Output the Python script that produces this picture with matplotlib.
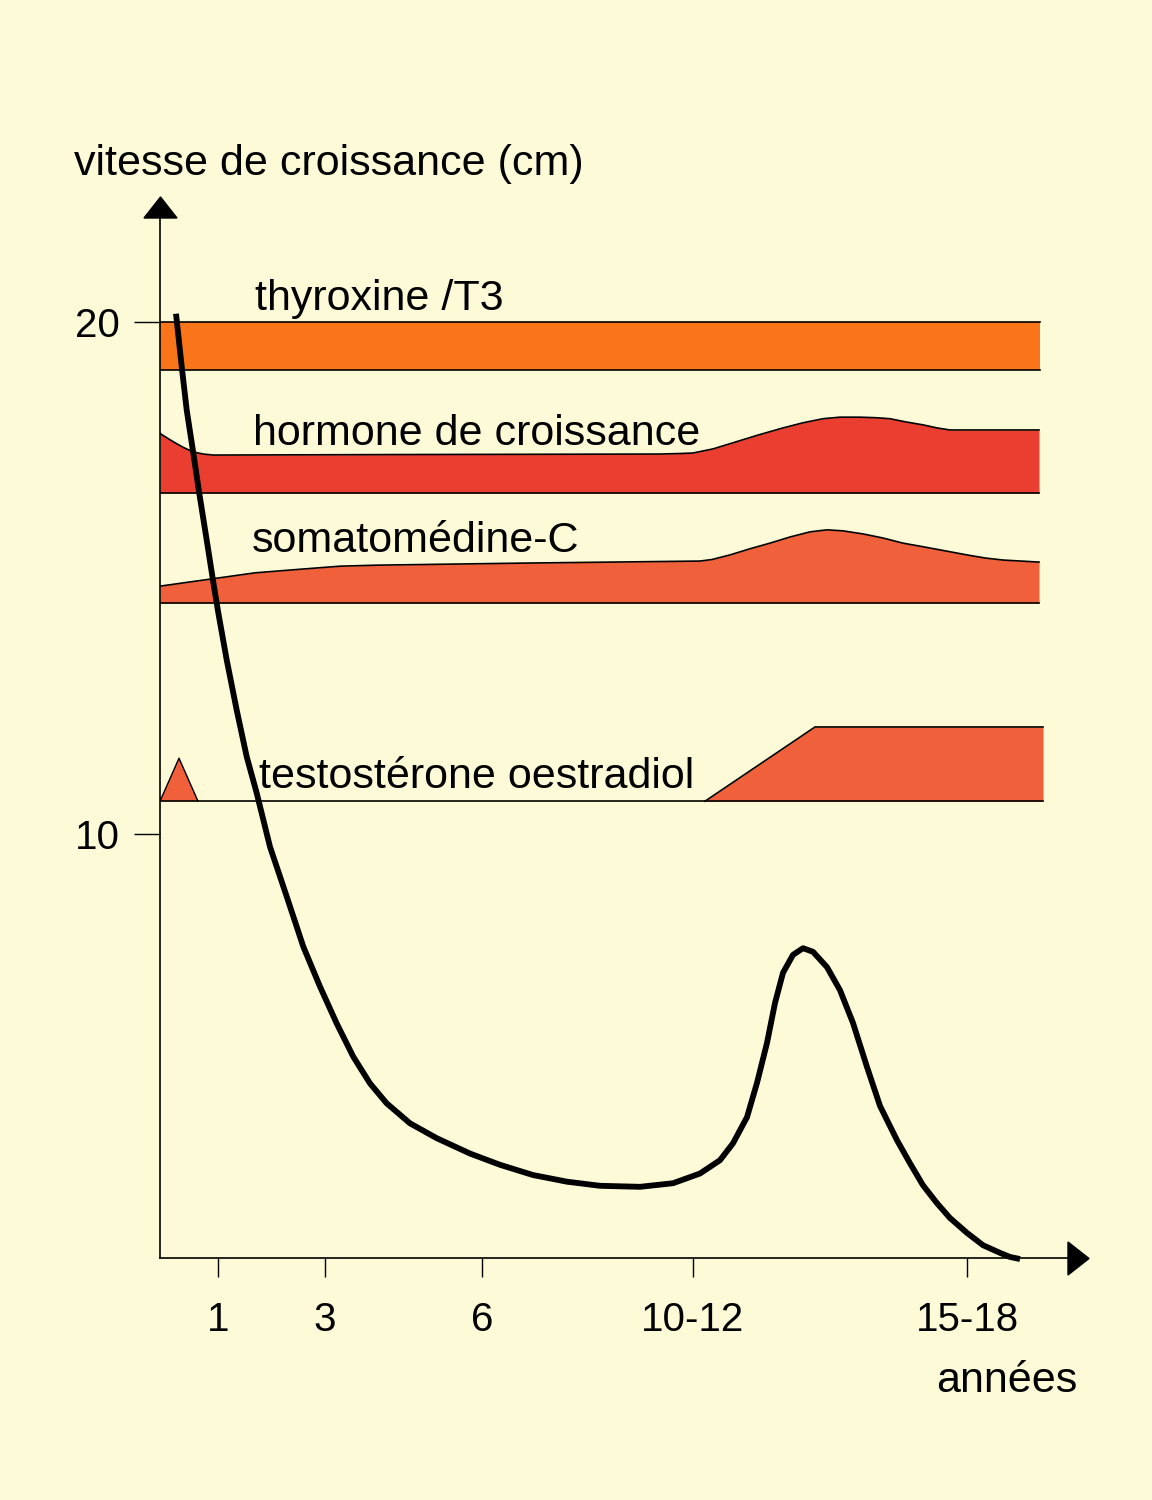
import matplotlib
matplotlib.use("Agg")
import matplotlib.pyplot as plt
from matplotlib.patches import Polygon

plt.rcParams['font.family'] = ['Liberation Sans', 'DejaVu Sans']

# x : position along the age axis (arbitrary units, 0 = origin)
# y : vitesse de croissance (cm)
age_ticks = [5.8, 16.5, 32.2, 53.3, 80.7]
age_labels = ["1", "3", "6", "10-12", "15-18"]

curve_x = [1.60, 2.17, 2.67, 3.33, 3.93, 4.67, 5.40, 5.83, 6.67, 7.67, 8.67, 9.67,
           11.0, 12.67, 14.33, 16.0, 17.67, 19.33, 21.0, 22.67, 25.0, 27.67, 31.0,
           34.0, 37.3, 40.7, 44.0, 48.0, 51.3, 54.0, 56.0, 57.3, 58.7, 59.7, 60.7,
           61.5, 62.3, 63.3, 64.3, 65.3, 66.7, 68.0, 69.3, 70.7, 72.0, 73.7, 75.0,
           76.3, 77.7, 79.0, 80.7, 82.3, 84.0, 85.0, 86.0]
curve_y = [20.16, 19.13, 18.28, 17.44, 16.65, 15.74, 14.83, 14.32, 13.40, 12.42,
           11.51, 10.80, 9.75, 8.78, 7.80, 7.02, 6.30, 5.65, 5.13, 4.74, 4.35, 4.06,
           3.76, 3.54, 3.34, 3.21, 3.13, 3.11, 3.18, 3.37, 3.63, 3.96, 4.47, 5.14,
           5.92, 6.70, 7.29, 7.64, 7.77, 7.70, 7.40, 6.95, 6.31, 5.45, 4.69, 4.02,
           3.57, 3.14, 2.79, 2.50, 2.21, 1.97, 1.82, 1.74, 1.70]

# thyroxine / T3
thyro_x = [0, 88.0]
thyro_top = [20.0, 20.0]
thyro_bottom = 19.06

# hormone de croissance
gh_x = [0, 0.17, 1.33, 2.33, 3.33, 4.33, 5.33, 24.0, 50.0, 52.0, 53.3, 55.3, 57.3,
        59.8, 62.3, 64.3, 66.3, 68.0, 70.0, 71.5, 73.0, 74.5, 76.3, 77.7, 79.0, 87.9]
gh_top = [17.83, 17.80, 17.66, 17.55, 17.46, 17.42, 17.40, 17.41, 17.42, 17.43,
          17.44, 17.52, 17.64, 17.79, 17.93, 18.03, 18.11, 18.14, 18.14, 18.13,
          18.11, 18.05, 17.99, 17.93, 17.89, 17.89]
gh_bottom = 16.66

# somatomédine-C
som_x = [0, 9.5, 14.0, 18.0, 21.7, 36.3, 54.0, 55.2, 57.0, 59.0, 61.0, 63.0, 65.0,
         66.7, 68.3, 70.3, 72.3, 74.3, 76.3, 78.5, 80.7, 82.5, 84.3, 87.9]
som_top = [14.84, 15.10, 15.17, 15.23, 15.25, 15.29, 15.33, 15.36, 15.45, 15.57,
           15.68, 15.80, 15.90, 15.94, 15.92, 15.86, 15.78, 15.68, 15.61, 15.53,
           15.45, 15.39, 15.35, 15.31]
som_bottom = 14.51

# testostérone / oestradiol
testo_base = 10.64
testo_peak_x = [0, 1.9, 3.8]
testo_peak_y = [10.64, 11.48, 10.64]
testo_x = [54.5, 65.5, 88.3]
testo_y = [10.64, 12.09, 12.09]
testo_end = 88.3

bg = "#FDFBD7"
c_thyro = "#FA751A"
c_gh = "#E93E30"
c_som = "#F0603A"

W, H = 1152, 1500
fig = plt.figure(figsize=(W / 100, H / 100), dpi=100, facecolor=bg)

def px(x, y):
    return (x / W, 1 - y / H)

# axes box: origin at (160, 1258), arrow tips at x=1089 and y=198
ax = fig.add_axes([160 / W, 1 - 1258 / H, (1089 - 160) / W, (1258 - 198) / H])
ax.set_facecolor(bg)
ax.set_xlim(0, 92.9)
ax.set_ylim(1.72, 22.42)

for s in ["top", "right"]:
    ax.spines[s].set_visible(False)
for s in ["left", "bottom"]:
    ax.spines[s].set_linewidth(1.2)
ax.spines["left"].set_bounds(1.72, 22.03)
ax.spines["bottom"].set_bounds(0, 90.8)

lw_edge = 1.2
# bands
ax.fill_between(thyro_x, thyro_bottom, thyro_top, color=c_thyro, lw=0)
ax.plot(thyro_x, thyro_top, color="black", lw=lw_edge)
ax.plot(thyro_x, [thyro_bottom] * 2, color="black", lw=lw_edge)

ax.fill_between(gh_x, gh_bottom, gh_top, color=c_gh, lw=0)
ax.plot(gh_x, gh_top, color="black", lw=lw_edge)
ax.plot([0, gh_x[-1]], [gh_bottom] * 2, color="black", lw=lw_edge)

ax.fill_between(som_x, som_bottom, som_top, color=c_som, lw=0)
ax.plot(som_x, som_top, color="black", lw=lw_edge)
ax.plot([0, som_x[-1]], [som_bottom] * 2, color="black", lw=lw_edge)

ax.fill(testo_peak_x, testo_peak_y, color=c_som, lw=0)
ax.plot(testo_peak_x, testo_peak_y, color="black", lw=1.0)
ax.fill_between(testo_x, testo_base, testo_y, color=c_som, lw=0)
ax.plot(testo_x, testo_y, color="black", lw=lw_edge)
ax.plot([0, testo_end], [testo_base] * 2, color="black", lw=lw_edge)

# growth velocity curve
ax.plot(curve_x, curve_y, color="black", lw=4.2, solid_joinstyle="round",
        solid_capstyle="butt", clip_on=False, zorder=5)

# labels on bands
fs = 31
ax.text(9.5, 20.23, "thyroxine /T3", fontsize=fs, va="baseline", ha="left")
ax.text(9.3, 17.6, "hormone de croissance", fontsize=fs, va="baseline", ha="left")
ax.text(9.2, 15.51, "somatomédine-C", fontsize=fs, va="baseline", ha="left")
ax.text(9.9, 10.9, "testostérone oestradiol", fontsize=fs, va="baseline", ha="left")

# ticks
ax.set_yticks([10, 20])
ax.set_yticklabels(["10", "20"])
ax.set_xticks(age_ticks)
ax.set_xticklabels(age_labels)
ax.tick_params(axis="y", length=18.7, width=1.0, pad=10, labelsize=29)
ax.tick_params(axis="x", length=13.7, width=1.0, pad=17, labelsize=29)

# arrow heads
fig.patches.append(Polygon([px(144, 218), px(177, 218), px(160.5, 197)], closed=True,
                           transform=fig.transFigure, color="black"))
fig.patches.append(Polygon([px(1068, 1242), px(1068, 1275), px(1089, 1258.5)], closed=True,
                           transform=fig.transFigure, color="black"))

fig.text(*px(74, 175), "vitesse de croissance (cm)", fontsize=fs, ha="left", va="baseline")
fig.text(*px(1077, 1392), "années", fontsize=fs, ha="right", va="baseline")

fig.savefig("out.png", dpi=100, facecolor=bg)
